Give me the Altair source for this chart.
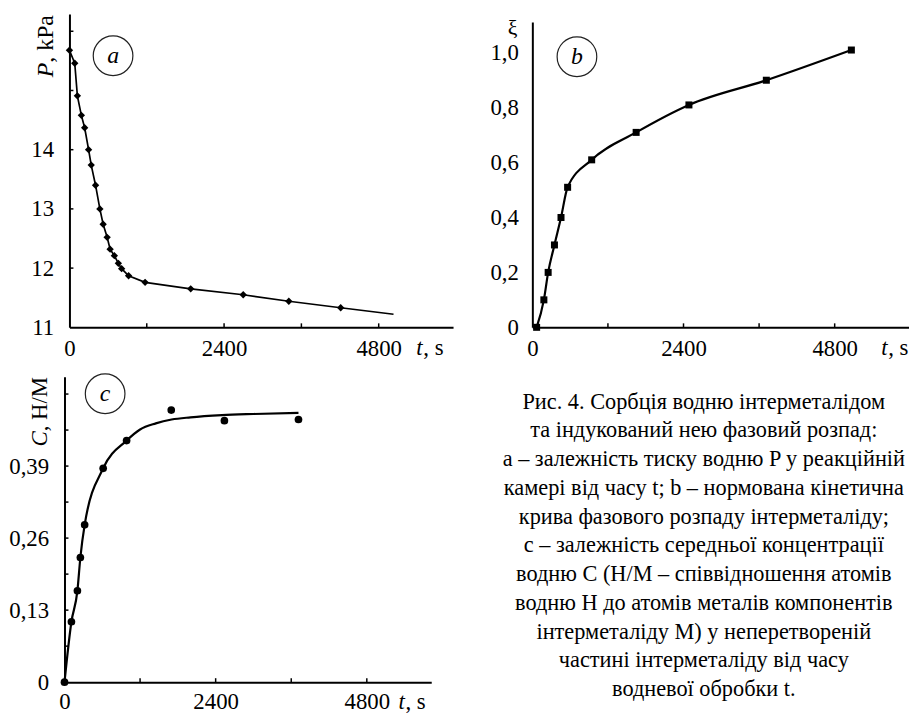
import altair as alt
import pandas as pd

FONT = "Liberation Serif, Times New Roman, Times, Tinos, DejaVu Serif, serif"

# ---------- panel a: pressure vs time ----------
T_A = [0, 82, 123, 185, 236, 297, 338, 405, 472, 523, 585, 631, 697, 759, 810, 918, 1174, 1882, 2697, 3405, 4210]
P_A = [15.68, 15.46, 14.91, 14.58, 14.37, 14.00, 13.74, 13.40, 13.00, 12.74, 12.52, 12.32, 12.21, 12.08, 11.99,
       11.87, 11.76, 11.65, 11.55, 11.44, 11.33]
T_A_END = 5030
P_A_END = 11.22
A_X_LABELS = [0, 2400, 4800]
A_X_TICKS = [1200, 2400, 3600, 4800]
A_Y_LABELS = [11, 12, 13, 14]
A_Y_TICKS = [12, 13, 14, 15, 16]

# ---------- panel b: normalized kinetic curve ----------
T_B = [68, 183, 251, 351, 455, 560, 942, 1648, 2486, 3715, 5065]
XI_B = [0.0, 0.10, 0.20, 0.30, 0.40, 0.51, 0.61, 0.71, 0.81, 0.90, 1.01]
B_X_LABELS = [0, 2400, 4800]
B_X_TICKS = [1200, 2400, 3600, 4800]
B_Y_LABELS = [0, 0.2, 0.4, 0.6, 0.8, 1.0]

# ---------- panel c: hydrogen concentration ----------
T_C = [0, 110, 205, 252, 320, 614, 986, 1695, 2539, 3715]
C_C = [0.0, 0.109, 0.165, 0.225, 0.284, 0.386, 0.436, 0.491, 0.472, 0.474]
T_C_FIT = [0, 110, 205, 252, 320, 614, 986, 1200, 1450, 1700, 2000, 2500, 3000, 3715]
C_C_FIT = [0.0, 0.109, 0.165, 0.225, 0.284, 0.386, 0.436, 0.456, 0.467, 0.474, 0.478, 0.482, 0.484, 0.486]
C_X_LABELS = [0, 2400, 4800]
C_X_TICKS = [1200, 2400, 3600, 4800]
C_Y_LABELS = [0, 0.13, 0.26, 0.39]
C_Y_TICKS = [0.065, 0.13, 0.195, 0.26, 0.325, 0.39, 0.455, 0.52]

CAPTION_LINES = [
    "Рис. 4. Сорбція водню інтерметалідом",
    "та індукований нею фазовий розпад:",
    "a – залежність тиску водню P у реакційній",
    "камері від часу t; b – нормована кінетична",
    "крива фазового розпаду інтерметаліду;",
    "c – залежність середньої концентрації",
    "водню C (H/M – співвідношення атомів",
    "водню H до атомів металів компонентів",
    "інтерметаліду M) у неперетвореній",
    "частині інтерметаліду від часу",
    "водневої обробки t.",
]

ONE = pd.DataFrame({"k": [0]})
H = 316


def txt(s, x, y, size=23, style="normal", align="left", baseline="alphabetic", angle=0):
    return alt.Chart(ONE).mark_text(
        text=s, font=FONT, fontSize=size, fontStyle=style, align=align,
        baseline=baseline, angle=angle, color="black"
    ).encode(x=alt.value(x), y=alt.value(y))


def circ(x, y):
    return alt.Chart(ONE).mark_point(
        shape="circle", size=1600, filled=False, color="#222", strokeWidth=1.2, opacity=1
    ).encode(x=alt.value(x), y=alt.value(y))


def x_axis(vals, pad=10):
    return alt.Axis(values=vals, format="d", title=None, labelPadding=pad, labelFlush=False,
                    labelOverlap=False, ticks=False, tickSize=0)


# ----- panel a -----
W_A = 392
xa = alt.Scale(domain=[0, 5954], range=[5, W_A], nice=False, zero=False)
ya = alt.Scale(domain=[11, 16.29], nice=False, zero=False)
axa_x = x_axis(A_X_LABELS)
axa_y = alt.Axis(values=A_Y_LABELS, format="d", title=None, labelPadding=16, offset=-5,
                 ticks=False, tickSize=0, labelOverlap=False)
df_a = pd.DataFrame({"t": T_A, "v": P_A})
df_a_line = pd.DataFrame({"t": T_A + [T_A_END], "v": P_A + [P_A_END]})
X_A = alt.X("t:Q", scale=xa, axis=axa_x)
Y_A = alt.Y("v:Q", scale=ya, axis=axa_y)

pa = alt.layer(
    alt.Chart(df_a_line).mark_line(color="black", strokeWidth=1.7).encode(x=X_A, y=Y_A),
    alt.Chart(df_a).mark_point(shape="diamond", size=55, filled=True, color="black", opacity=1).encode(x=X_A, y=Y_A),
    alt.Chart(pd.DataFrame({"t": A_X_TICKS})).mark_rule(color="black", strokeWidth=1.5).encode(
        x=X_A, y=alt.value(H), y2=alt.value(H - 4)),
    alt.Chart(pd.DataFrame({"v": A_Y_TICKS})).mark_rule(color="black", strokeWidth=1.5).encode(
        y=Y_A, x=alt.value(5), x2=alt.value(9)),
    circ(49, 42),
    txt("a", 49, 42, size=24, style="italic", align="center", baseline="middle"),
    txt(", kPa", -19, 1, size=24, align="right", baseline="middle", angle=270),
    txt("P", -19, 49, size=24, style="italic", align="right", baseline="middle", angle=270),
    txt("t", 355, 344, style="italic"),
    txt(", s", 362, 344),
).properties(width=W_A, height=H)

# ----- panel b -----
W_B = 380
xb = alt.Scale(domain=[0, 5980], range=[0, W_B], nice=False, zero=False)
yb = alt.Scale(domain=[0, 1.112], range=[H, 8], nice=False)
axb_x = x_axis(B_X_LABELS)
axb_y = alt.Axis(values=B_Y_LABELS, title=None, labelPadding=14, ticks=False, tickSize=0,
                 labelOverlap=False,
                 labelExpr="datum.value == 0 ? '0' : replace(format(datum.value, '.1f'), '.', ',')")
df_b = pd.DataFrame({"t": T_B, "v": XI_B})
X_B = alt.X("t:Q", scale=xb, axis=axb_x)
Y_B = alt.Y("v:Q", scale=yb, axis=axb_y)

pb = alt.layer(
    alt.Chart(df_b).mark_line(color="black", strokeWidth=2.2, interpolate="monotone").encode(x=X_B, y=Y_B),
    alt.Chart(df_b).mark_point(shape="square", size=50, filled=True, color="black", opacity=1).encode(x=X_B, y=Y_B),
    alt.Chart(pd.DataFrame({"t": B_X_TICKS})).mark_rule(color="black", strokeWidth=1.5).encode(
        x=X_B, y=alt.value(H), y2=alt.value(H - 4)),
    circ(45, 43),
    txt("b", 45, 43, size=24, style="italic", align="center", baseline="middle"),
    txt("ξ", -20, 21, size=22, align="center"),
    txt("t", 352, 344, style="italic"),
    txt(", s", 359, 344),
).properties(width=W_B, height=H)

# ----- panel c -----
W_C = 370
H_C = 308
xc = alt.Scale(domain=[0, 5823], nice=False, zero=False)
yc = alt.Scale(domain=[0, 0.551], nice=False)
axc_x = x_axis(C_X_LABELS, pad=9)
axc_y = alt.Axis(values=C_Y_LABELS, title=None, labelPadding=16, ticks=False, tickSize=0,
                 labelOverlap=False,
                 labelExpr="datum.value == 0 ? '0' : replace(format(datum.value, '.2f'), '.', ',')")
df_c = pd.DataFrame({"t": T_C, "v": C_C})
df_c_fit = pd.DataFrame({"t": T_C_FIT, "v": C_C_FIT})
X_C = alt.X("t:Q", scale=xc, axis=axc_x)
Y_C = alt.Y("v:Q", scale=yc, axis=axc_y)

pc = alt.layer(
    alt.Chart(df_c_fit).mark_line(color="black", strokeWidth=2.2, interpolate="monotone").encode(x=X_C, y=Y_C),
    alt.Chart(df_c).mark_point(shape="circle", size=60, filled=True, color="black", opacity=1).encode(x=X_C, y=Y_C),
    alt.Chart(pd.DataFrame({"t": C_X_TICKS})).mark_rule(color="black", strokeWidth=1.5).encode(
        x=X_C, y=alt.value(H_C), y2=alt.value(H_C - 4)),
    alt.Chart(pd.DataFrame({"v": C_Y_TICKS})).mark_rule(color="black", strokeWidth=1.5).encode(
        y=Y_C, x=alt.value(0), x2=alt.value(4)),
    circ(41, 17),
    txt("c", 41, 17, size=24, style="italic", align="center", baseline="middle"),
    txt(", H/M", -25, 0, size=23, align="right", baseline="middle", angle=270),
    txt("C", -25, 55, size=23, style="italic", align="right", baseline="middle", angle=270),
    txt("t", 337, H_C + 27, style="italic"),
    txt(", s", 344, H_C + 27),
).properties(width=W_C, height=H_C)

# ----- caption -----
cap_df = pd.DataFrame({"caption": ["\n".join(CAPTION_LINES)]})
cap = alt.Chart(cap_df).mark_text(
    font=FONT, fontSize=22.5, lineHeight=29, align="center", baseline="alphabetic",
    lineBreak="\n", color="black"
).encode(x=alt.value(173), y=alt.value(32), text="caption:N").properties(width=380, height=300)

chart = alt.concat(
    pa, pb, pc, cap, columns=2, spacing={"row": 50, "column": 80}, bounds="flush", align="none"
).properties(
    padding={"left": 0, "top": 3, "right": 0, "bottom": 0}
).configure_view(stroke=None).configure_axis(
    domainColor="black", domainWidth=2, labelColor="black", labelFont=FONT, labelFontSize=23, grid=False
)

chart.save("out.html", embed_options={"renderer": "svg", "actions": False})
